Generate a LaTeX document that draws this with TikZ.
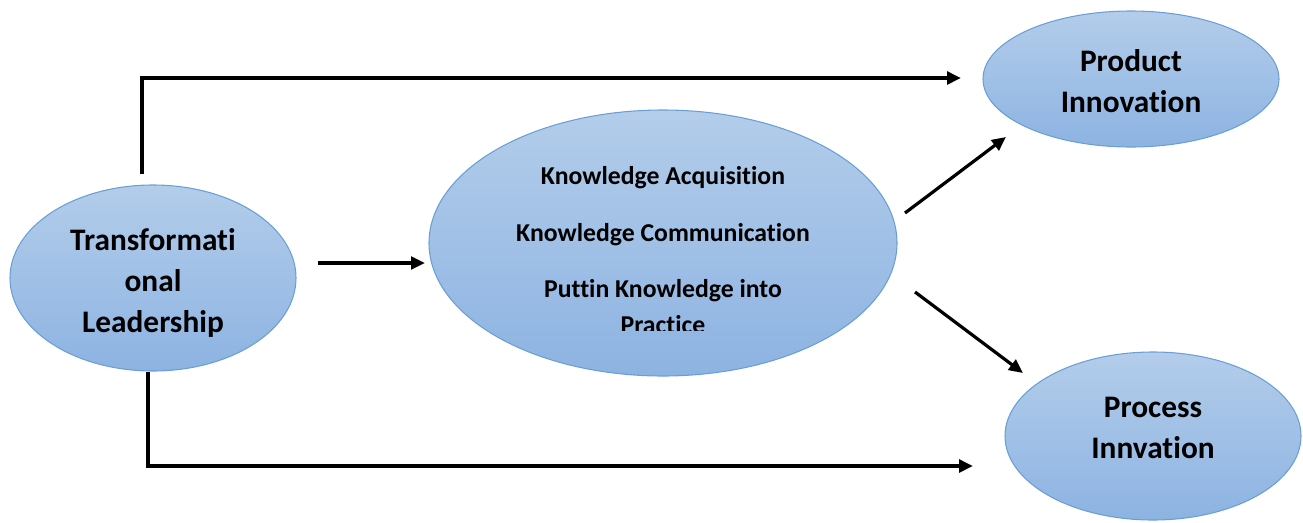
\documentclass[tikz,border=0pt]{standalone}
\usepackage{fontspec}
\setmainfont[Ligatures=NoCommon]{Carlito}
\usetikzlibrary{shapes.geometric,arrows.meta}
\begin{document}
\begin{tikzpicture}[x=0.75pt,y=-0.75pt,
  bubble/.style={ellipse,draw=bubbleedge,line width=0.8pt,top color=bubbletop,bottom color=bubblebot,inner sep=0pt},
  big/.style={font=\bfseries\fontsize{23.5}{30.5}\selectfont,align=center,inner sep=0pt},
  link/.style={line width=2.4pt,-{Triangle[length=10.5pt,width=9.5pt]}},
  lbl/.style={font=\bfseries\fontsize{19.3}{23}\selectfont,inner sep=0pt}]
\definecolor{bubbletop}{HTML}{B3CDEA}
\definecolor{bubblebot}{HTML}{8DB3E2}
\definecolor{bubbleedge}{HTML}{6A9FD6}
\useasboundingbox (0,0) rectangle (1303,522);

% ellipses
\node[bubble,minimum width={286*0.75pt},minimum height={186*0.75pt}] (L) at (153,278) {};
\node[bubble,minimum width={468*0.75pt},minimum height={266*0.75pt}] (M) at (663,243) {};
\node[bubble,minimum width={296*0.75pt},minimum height={136*0.75pt}] (P) at (1131,79) {};
\node[bubble,minimum width={296*0.75pt},minimum height={168*0.75pt}] (Q) at (1153,436) {};

% ellipse texts
\node[big] (Lx) at (153,283) {Transformati\\onal\\Leadership};
\node[big] (Px) at (1131,81) {Product\\Innovation};
\node[big] (Qx) at (1153,428) {Process\\Innvation};

% text of the middle ellipse, last line cut by its box
\node[lbl] (m1) at (663,178) {Knowledge Acquisition};
\node[lbl] (m2) at (663,235) {Knowledge Communication};
\node[lbl] (m3) at (663,291) {Puttin Knowledge into};
\begin{scope}
  \clip (500,300) rectangle (830,330);
  \node[lbl,anchor=base] (m4) at (663,333) {Practice};
\end{scope}

% connector end points
\coordinate (a1) at (142,172);
\coordinate (a2) at (961,78);
\coordinate (b1) at (148,372);
\coordinate (b2) at (973,466);
\coordinate (c1) at (318,263);
\coordinate (c2) at (425,263);
\coordinate (d1) at (905,213);
\coordinate (d2) at (1006,137);
\coordinate (e1) at (915,292);
\coordinate (e2) at (1023,373);

% connectors
\draw[link,line width=3.2pt,line cap=rect] (a1) |- (a2);
\draw[link,line width=3.2pt] (b1) |- (b2);
\draw[link] (c1) -- (c2);
\draw[link] (d1) -- (d2);
\draw[link] (e1) -- (e2);
\end{tikzpicture}
\end{document}
